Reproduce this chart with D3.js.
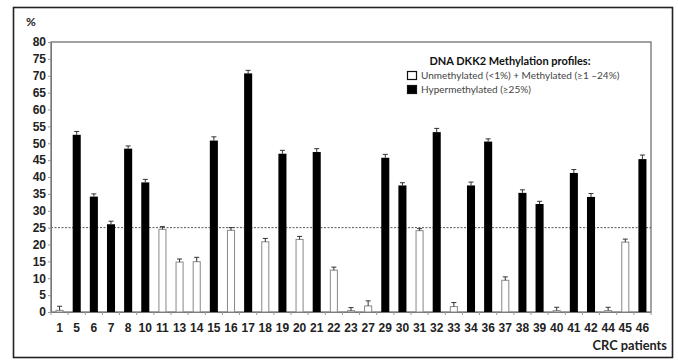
<!DOCTYPE html>
<html>
<head>
<meta charset="utf-8">
<script src="https://cdn.jsdelivr.net/npm/d3@7"></script>
<style>
  html, body { margin: 0; padding: 0; background: #fff; }
  svg { display: block; font-family: Lato, "Open Sans", sans-serif; }
</style>
</head>
<body>
<svg id="chart" width="678" height="360"></svg>
<script>
// Patient IDs along the x axis
const patients = ["1","5","6","7","8","10","11","13","14","15","16","17","18","19","20","21","22","23","27","29","30","31","32","33","34","36","37","38","39","40","41","42","44","45","46"];
// DKK2 methylation (%) per patient
const methylation = [0.5,52.5,34.2,26,48.4,38.4,24.5,14.8,14.9,50.8,24.2,70.7,20.8,46.9,21.5,47.4,12.4,0.4,1.8,45.7,37.5,24.1,53.3,1.6,37.5,50.5,9.4,35.3,32,0.4,41.2,34.1,0.4,20.7,45.3];
// Standard deviation per patient
const errors = [1.2,1,0.8,0.9,0.8,0.9,0.8,0.9,1.3,1.1,0.8,0.9,1,1,0.9,1,0.9,0.9,1.5,1,0.8,0.6,1.1,1.2,1,0.8,1,0.9,0.8,1,1,1,1,0.9,1.2];
// Category: hypermethylated (>=25%) or not
const hyper = methylation.map(v => v >= 25);
const yTicks = [0,5,10,15,20,25,30,35,40,45,50,55,60,65,70,75,80];
const threshold = 25;
const legendTitle = "DNA DKK2 Methylation profiles:";
const legendItems = ["Unmethylated (<1%) + Methylated (\u22651 \u201324%)", "Hypermethylated  (\u226525%)"];

const svg = d3.select("#chart");
const m = { left: 51, right: 651, top: 42, bottom: 312 };

// outer frame
svg.append("rect").attr("x", 13.5).attr("y", 7.5).attr("width", 659).attr("height", 350)
  .attr("fill", "none").attr("stroke", "#222").attr("stroke-width", 1.6);

const x = d3.scaleBand().domain(patients).range([m.left, m.right]).paddingInner(0.53).paddingOuter(0.265);
const y = d3.scaleLinear().domain([0, 80]).range([m.bottom, m.top]);

// plot box
svg.append("rect").attr("x", m.left).attr("y", m.top).attr("width", m.right - m.left).attr("height", m.bottom - m.top)
  .attr("fill", "none").attr("stroke", "#666").attr("stroke-width", 1.2);

// threshold line
svg.append("line").attr("x1", m.left).attr("x2", m.right).attr("y1", y(threshold)).attr("y2", y(threshold))
  .attr("stroke", "#555").attr("stroke-width", 1).attr("stroke-dasharray", "2,1.5");

// y axis
const yAxis = svg.append("g").attr("transform", `translate(${m.left},0)`)
  .call(d3.axisLeft(y).tickValues(yTicks).tickSize(3).tickPadding(2));
yAxis.select(".domain").attr("stroke", "#777");
yAxis.selectAll(".tick line").attr("stroke", "#999");
yAxis.selectAll("text").attr("font-size", 12).attr("font-weight", 700).attr("fill", "#222");

// x axis: ticks between categories
const xAxis = svg.append("g").attr("transform", `translate(0,${m.bottom})`)
  .call(d3.axisBottom(x).tickSize(0).tickPadding(11));
xAxis.select(".domain").attr("stroke", "#777");
xAxis.selectAll("text").attr("font-size", 12).attr("font-weight", 700).attr("fill", "#222");
const step = x.step();
xAxis.selectAll(".sep").data(d3.range(patients.length + 1)).join("line")
  .attr("x1", i => m.left + i * step).attr("x2", i => m.left + i * step)
  .attr("y1", 0).attr("y2", 3).attr("stroke", "#999");

// bars
svg.append("g").selectAll("rect").data(patients).join("rect")
  .attr("x", (d, i) => x(d) + (hyper[i] ? 0 : 0.5))
  .attr("width", (d, i) => x.bandwidth() - (hyper[i] ? 0 : 1))
  .attr("y", (d, i) => y(methylation[i]))
  .attr("height", (d, i) => y(0) - y(methylation[i]))
  .attr("fill", (d, i) => hyper[i] ? "#000" : "#fff")
  .attr("stroke", (d, i) => hyper[i] ? "none" : "#888")
  .attr("stroke-width", 1);

// error bars
const eb = svg.append("g").attr("stroke", "#333").attr("stroke-width", 1);
patients.forEach((d, i) => {
  const cx = x(d) + x.bandwidth() / 2;
  eb.append("line").attr("x1", cx).attr("x2", cx)
    .attr("y1", y(methylation[i])).attr("y2", y(methylation[i] + errors[i]));
  eb.append("line").attr("x1", cx - 2.5).attr("x2", cx + 2.5)
    .attr("y1", y(methylation[i] + errors[i])).attr("y2", y(methylation[i] + errors[i]));
});

// axis titles
svg.append("text").attr("x", 26).attr("y", 26).text("%")
  .attr("font-size", 12).attr("font-weight", 700).attr("fill", "#222");
svg.append("text").attr("x", 667).attr("y", 350).attr("text-anchor", "end").text("CRC patients")
  .attr("font-size", 12.8).attr("font-weight", 700).attr("fill", "#222");

// legend
const lg = svg.append("g");
lg.append("text").attr("x", 510).attr("y", 65).attr("text-anchor", "middle").text(legendTitle)
  .attr("font-size", 11).attr("font-weight", 700).attr("fill", "#111");
legendItems.forEach((t, i) => {
  const yy = 71 + i * 14;
  lg.append("rect").attr("x", 407.5).attr("y", yy + 0.5).attr("width", 9).attr("height", 8)
    .attr("fill", i === 0 ? "#fff" : "#000").attr("stroke", "#111").attr("stroke-width", 1.2);
  lg.append("text").attr("x", 421).attr("y", yy + 8).text(t)
    .attr("font-size", 10).attr("fill", "#444");
});
</script>
</body>
</html>
